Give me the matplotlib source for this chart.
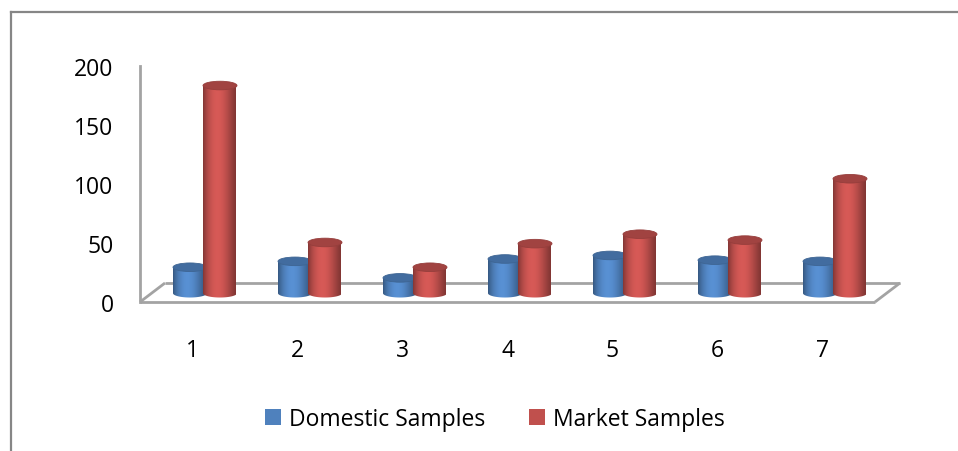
import numpy as np
import matplotlib
matplotlib.use("Agg")
import matplotlib.pyplot as plt
from matplotlib.patches import Ellipse, PathPatch, Patch
from matplotlib.path import Path
from matplotlib.lines import Line2D

plt.rcParams['font.family'] = ['Open Sans', 'DejaVu Sans']

categories = ['1', '2', '3', '4', '5', '6', '7']
domestic = [22, 27, 13, 29, 32, 28, 27]
market = [176, 43, 22, 42, 50, 45, 97]
series_names = ['Domestic Samples', 'Market Samples']
yticks = [0, 50, 100, 150, 200]

BLUE = np.array([0x4F, 0x81, 0xBD]) / 255
RED = np.array([0xC0, 0x50, 0x4D]) / 255
GRID_GRAY = '#a3a3a3'

W, H = 958, 452
fig = plt.figure(figsize=(W / 100, H / 100), dpi=100)

# plot area: x 140..875 px, value 0 at y=303 px, 200 at y=67 px
px_left, px_right, px_zero, px_top = 140, 875, 303, 67
ax = fig.add_axes([px_left / W, (H - px_zero) / H,
                   (px_right - px_left) / W, (px_zero - px_top) / H])
ax.set_xlim(0, len(categories))
ax.set_ylim(0, 200)
ax.patch.set_alpha(0)

ux = (px_right - px_left) / len(categories)   # px per category
uy = (px_zero - px_top) / 200                 # px per value unit

# oblique depth of the floor
DX = 25 / ux
DY = 19 / uy

for s in ['top', 'right', 'bottom']:
    ax.spines[s].set_visible(False)
ax.spines['left'].set_color(GRID_GRAY)
ax.spines['left'].set_linewidth(2)

n = len(categories)
floor_kw = dict(color=GRID_GRAY, lw=2, clip_on=False, solid_capstyle='butt')
ax.plot([DX, n + DX], [DY, DY], zorder=1, **floor_kw)
ax.plot([0, DX], [0, DY], zorder=1, **floor_kw)
ax.plot([n, n + DX], [0, DY], zorder=1, **floor_kw)
ax.plot([0, n], [0, 0], zorder=1, **floor_kw)

ax.set_yticks(yticks)
ax.set_yticklabels([str(v) for v in yticks], fontsize=16.5)
ax.tick_params(axis='y', length=0, pad=19)
ax.set_xticks(np.arange(n) + 0.5)
ax.set_xticklabels(categories, fontsize=16.5)
ax.tick_params(axis='x', length=0, pad=26)

radius = 17 / ux
ell_h = 4.3 / uy
base = DY / 2 - 0.6


def shade_row(color, npts=64):
    t = np.linspace(0, 1, npts)
    f = np.where(t < 0.42,
                 0.68 + 0.44 * np.sin(np.pi / 2 * t / 0.42) ** 0.8,
                 0.66 + 0.46 * np.cos(np.pi / 2 * (t - 0.42) / 0.58) ** 1.3)
    rgb = np.clip(color[None, :] * f[:, None], 0, 1)
    return rgb[None, :, :]


def cylinder(cx, value, color, z):
    top = base + value
    ts = np.linspace(np.pi, 2 * np.pi, 40)
    verts = [(cx + radius * np.cos(t), base + ell_h * np.sin(t)) for t in ts]
    verts += [(cx + radius, top), (cx - radius, top), verts[0]]
    codes = [Path.MOVETO] + [Path.LINETO] * (len(verts) - 2) + [Path.CLOSEPOLY]
    body = PathPatch(Path(verts, codes), transform=ax.transData,
                     facecolor='none', edgecolor='none')
    img = ax.imshow(shade_row(color), extent=[cx - radius, cx + radius,
                                              base - ell_h, top],
                    aspect='auto', interpolation='bilinear', zorder=z,
                    clip_on=True)
    img.set_clip_path(body)
    cap = Ellipse((cx, top), 2 * radius, 2 * ell_h,
                  facecolor=np.clip(color * 0.84, 0, 1),
                  edgecolor=np.clip(color * 0.78, 0, 1), lw=0.6, zorder=z + 0.1)
    ax.add_patch(cap)


offset = 15 / ux
for i in range(n):
    xc = i + 0.5 + DX / 2
    cylinder(xc - offset, domestic[i], BLUE, 3 + i * 0.01)
    cylinder(xc + offset, market[i], RED, 4 + i * 0.01)

ax.set_xlim(0, n)
ax.set_ylim(0, 200)

# chart border (left and top edges)
fig.add_artist(Line2D([10.5 / W, 10.5 / W], [0, 1 - 13 / H],
                      transform=fig.transFigure, color='#868686', lw=1.6))
fig.add_artist(Line2D([10.5 / W, 1], [1 - 13 / H, 1 - 13 / H],
                      transform=fig.transFigure, color='#868686', lw=1.6))

handles = [Patch(facecolor=BLUE), Patch(facecolor=RED)]
fig.legend(handles, series_names, loc='center',
           bbox_to_anchor=(495 / W, 1 - 420 / H), ncol=2, frameon=False,
           fontsize=16.5, handlelength=0.7, handleheight=0.7,
           handletextpad=0.35, columnspacing=1.9)

fig.savefig('out.png', dpi=100)
